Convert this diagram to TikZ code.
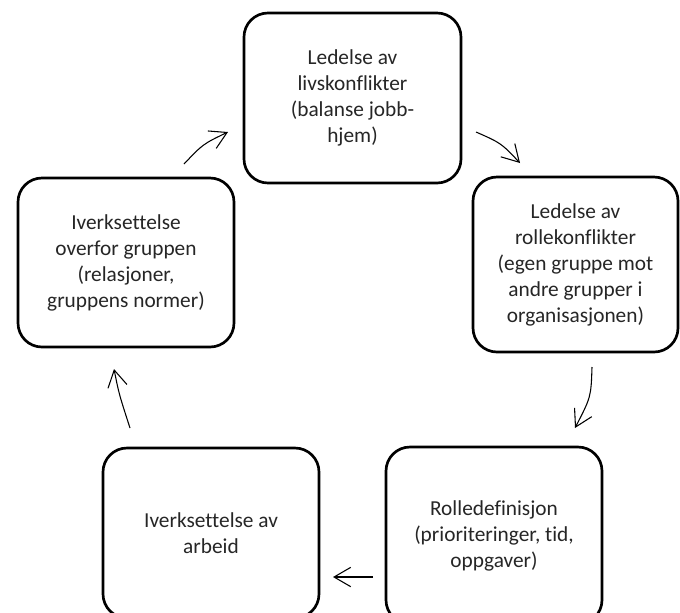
\documentclass[tikz,border=0pt]{standalone}
\usepackage{fontspec}
\setmainfont{Carlito}[Ligatures={NoCommon}]
\usetikzlibrary{arrows.meta}
\begin{document}
\begin{tikzpicture}[x=0.75pt,y=-0.75pt,
  stepbox/.style={draw=black, line width=2pt, rounded corners=18pt, align=center,
    font=\fontsize{16}{19.5}\selectfont, text=black!85, inner sep=0pt},
  flow/.style={line width=0.8pt, -{Straight Barb[length=12.5pt,width=14.5pt,line width=0.8pt]}}]
\useasboundingbox (0,0) rectangle (680,612);
\fill[white] (0,0) rectangle (680,612);

\node[stepbox, minimum width=162.75pt, minimum height=127.5pt] (top) at (352.5,98)
  {Ledelse av\\livskonflikter\\(balanse jobb-\\hjem)};
\node[stepbox, minimum width=153.75pt, minimum height=131.25pt] (right) at (575.5,264.5)
  {Ledelse av\\rollekonflikter\\(egen gruppe mot\\andre grupper i\\organisasjonen)};
\node[stepbox, minimum width=162pt, minimum height=132.75pt] (botright) at (494,535.5)
  {Rolledefinisjon\\(prioriteringer, tid,\\oppgaver)};
\node[stepbox, minimum width=162pt, minimum height=127.5pt] (botleft) at (211,533)
  {Iverksettelse av\\arbeid};
\node[stepbox, minimum width=162pt, minimum height=126.75pt] (left) at (126,262.5)
  {Iverksettelse\\overfor gruppen\\(relasjoner,\\gruppens normer)};

\coordinate (a1s) at (184,164); \coordinate (a1e) at (228,132);
\coordinate (a2s) at (476,132); \coordinate (a2e) at (520,163);
\coordinate (a3s) at (592,367); \coordinate (a3e) at (575,428);
\coordinate (a4s) at (373,577); \coordinate (a4e) at (333,577);
\coordinate (a5s) at (130,428); \coordinate (a5e) at (114,369);

\draw[flow] (a1s) .. controls (203,144) .. (a1e);
\draw[flow] (a2s) .. controls (501,143) .. (a2e);
\draw[flow] (a3s) .. controls (591,397) .. (a3e);
\draw[flow] (a4s) -- (a4e);
\draw[flow] (a5s) .. controls (119,394) .. (a5e);
\end{tikzpicture}
\end{document}
